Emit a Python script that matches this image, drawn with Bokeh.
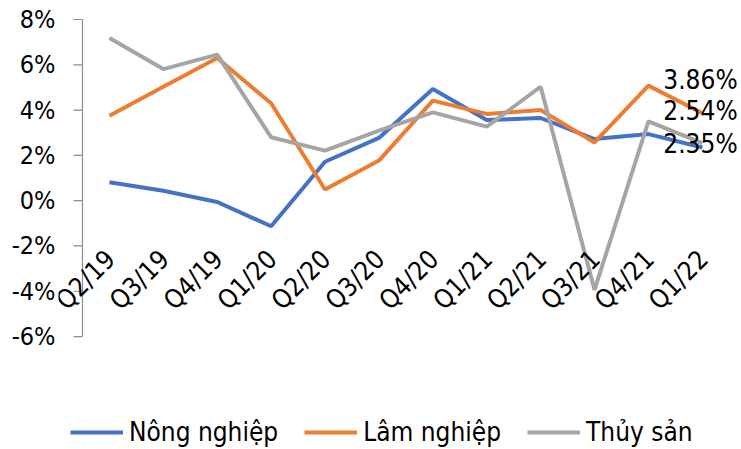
from bokeh.plotting import figure
from bokeh.models import (ColumnDataSource, FixedTicker, PrintfTickFormatter,
                          Legend, LegendItem, LabelSet, Range1d)
from bokeh.core.properties import value
from bokeh.embed import file_html
from bokeh.resources import INLINE
import math

quarters = ["Q2/19", "Q3/19", "Q4/19", "Q1/20", "Q2/20", "Q3/20",
            "Q4/20", "Q1/21", "Q2/21", "Q3/21", "Q4/21", "Q1/22"]
nong_nghiep = [0.81, 0.44, -0.06, -1.13, 1.72, 2.77, 4.93, 3.56, 3.65, 2.72, 2.94, 2.35]
lam_nghiep = [3.75, 5.03, 6.30, 4.30, 0.49, 1.77, 4.42, 3.83, 4.00, 2.57, 5.08, 3.86]
thuy_san = [7.18, 5.81, 6.45, 2.80, 2.21, 3.09, 3.90, 3.27, 5.03, -3.94, 3.50, 2.54]
series_names = ["Nông nghiệp", "Lâm nghiệp", "Thủy sản"]
y_ticks = [-6, -4, -2, 0, 2, 4, 6, 8]
last_labels = ["2.35%", "3.86%", "2.54%"]

FONT = "DejaVu Sans Condensed"
colors = ["#4472C4", "#ED7D31", "#A5A5A5"]
AXIS_GRAY = "#8C8C8C"

# category positions (index of each quarter)
xi = list(range(len(quarters)))
y_lo, y_hi = y_ticks[0], y_ticks[-1]

# the plotting frame covers the whole page area right of the y labels,
# so the ranges extend beyond the axis span to leave room for the legend
p = figure(x_range=Range1d(-0.945, 11.727), y_range=Range1d(-10.989, 8.839),
           width=741, height=449,
           output_backend="svg", toolbar_location=None,
           min_border_left=58, min_border_right=0, min_border_top=0,
           min_border_bottom=0)
p.outline_line_color = None
p.grid.visible = False
p.xaxis.visible = False

# vertical axis line at the left edge of the first category, with outward ticks
p.segment(x0=[-0.5], y0=[y_lo], x1=[-0.5], y1=[y_hi],
          line_color=AXIS_GRAY, line_width=1.2)
tick_len = 9 / 53.9
p.segment(x0=[-0.5 - tick_len] * len(y_ticks), y0=y_ticks,
          x1=[-0.5] * len(y_ticks), y1=y_ticks,
          line_color=AXIS_GRAY, line_width=1.2)

renderers = []
for vals, col in zip([nong_nghiep, lam_nghiep, thuy_san], colors):
    src = ColumnDataSource(dict(x=xi, y=vals))
    r = p.line("x", "y", source=src, line_color=col, line_width=4)
    renderers.append(r)

# y axis labels
p.yaxis.ticker = FixedTicker(ticks=y_ticks)
p.yaxis.formatter = PrintfTickFormatter(format="%d%%")
p.yaxis.axis_line_color = None
p.yaxis.major_tick_line_color = None
p.yaxis.major_tick_out = 0
p.yaxis.major_tick_in = 0
p.yaxis.minor_tick_out = 0
p.yaxis.minor_tick_line_color = None
p.yaxis.major_label_text_font = FONT
p.yaxis.major_label_text_font_size = "25px"
p.yaxis.major_label_text_color = "black"
p.yaxis.major_label_standoff = 3

# category labels along the zero line, rotated
cat_src = ColumnDataSource(dict(x=xi, y=[0] * len(quarters), text=quarters))
cat_labels = LabelSet(x="x", y="y", text="text", source=cat_src,
                      angle=math.pi / 4, x_offset=1, y_offset=-54,
                      text_font=value(FONT), text_font_size=value("26px"),
                      text_align="right", text_baseline="middle",
                      text_color="black")
p.add_layout(cat_labels)

# end-of-series labels
lab_src = ColumnDataSource(dict(
    x=[xi[-1]] * 3,
    y=[nong_nghiep[-1], lam_nghiep[-1], thuy_san[-1]],
    text=last_labels,
    yo=[3, 33, 32],
))
labels = LabelSet(x="x", y="y", text="text", source=lab_src,
                  x_offset=-39, y_offset="yo", text_font=value(FONT),
                  text_font_size=value("26px"), text_align="left",
                  text_baseline="middle", text_color="black")
p.add_layout(labels)

legend = Legend(items=[LegendItem(label=n, renderers=[r])
                       for n, r in zip(series_names, renderers)],
                orientation="horizontal", location=(12, 2),
                label_text_font=FONT, label_text_font_size="26px",
                label_text_color="black",
                glyph_width=53, glyph_height=30, label_height=30,
                label_standoff=6, spacing=26, padding=0, margin=0,
                border_line_color=None, background_fill_alpha=0)
p.add_layout(legend, "center")

open("out.html", "w").write(file_html(p, INLINE))
